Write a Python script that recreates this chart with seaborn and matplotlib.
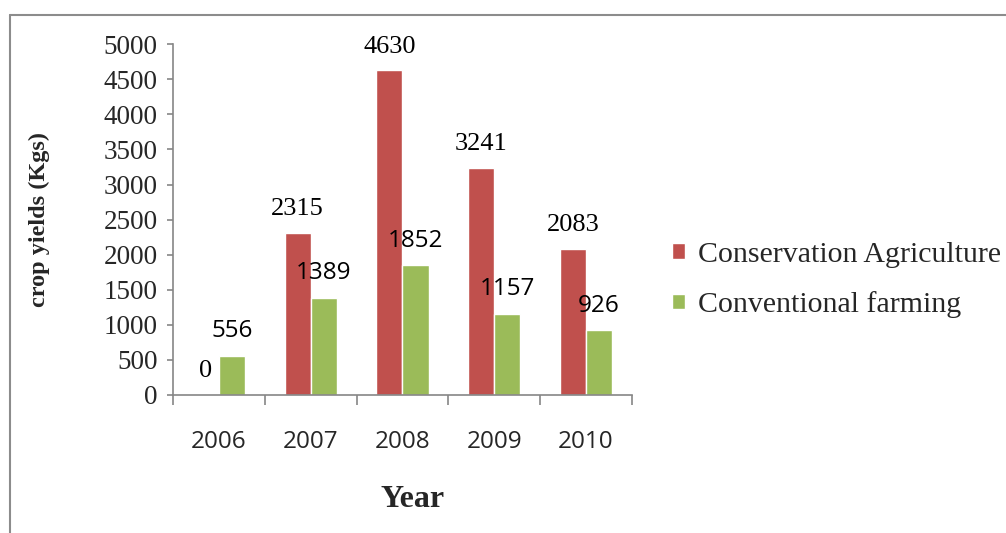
import numpy as np
import pandas as pd
import matplotlib.pyplot as plt
import seaborn as sns
from matplotlib.lines import Line2D
from matplotlib.patches import Patch
from matplotlib.colors import to_hex

###################################
# Data
###################################
years = ['2006', '2007', '2008', '2009', '2010']
conservation = [0, 2315, 4630, 3241, 2083]
conventional = [556, 1389, 1852, 1157, 926]
series = ['Conservation Agriculture', 'Conventional farming']
colors = ['#C0504D', '#9BBB59']

df = pd.DataFrame({
    'Year': years * 2,
    'Yield': conservation + conventional,
    'Series': [series[0]] * len(years) + [series[1]] * len(years),
})

###################################
# Plot
###################################
sns.set_style('white')
serif = 'Liberation Serif'
sans = 'Open Sans'
grey = '#868686'

fig = plt.figure(figsize=(10.06, 5.33), dpi=100)
ax = fig.add_axes([0.172, 0.259, 0.456, 0.658])
sns.barplot(data=df, x='Year', y='Yield', hue='Series', palette=colors,
            saturation=1, width=0.57, errorbar=None, legend=False, ax=ax)

# value labels: first series in serif, second in sans
for cont in ax.containers:
    for bar in cont:
        is_red = to_hex(bar.get_facecolor()).lower() == colors[0].lower()
        h = bar.get_height()
        ax.annotate(f'{h:g}', (bar.get_x() + bar.get_width() / 2, h),
                    xytext=(0, 9), textcoords='offset points',
                    ha='center', va='bottom',
                    fontfamily=serif if is_red else sans,
                    fontsize=19 if is_red else 17.5, color='black')

ax.set_ylim(0, 5000)
ax.set_xlim(-0.5, len(years) - 0.5)
ax.set_yticks(np.arange(0, 5001, 500))
ax.set_yticklabels([str(v) for v in range(0, 5001, 500)],
                   fontfamily=serif, fontsize=19.5)
ax.tick_params(axis='y', direction='out', length=4, width=1.2, color=grey,
               pad=7, left=True)
# category labels under centres, tick marks at the boundaries
ax.set_xticks(range(len(years)))
ax.set_xticklabels(years, fontfamily=sans, fontsize=17.5)
ax.set_xticks(np.arange(-0.5, len(years)), minor=True)
ax.tick_params(axis='x', which='major', length=0, pad=25)
ax.tick_params(axis='x', which='minor', direction='out', length=7,
               width=1.2, color=grey, bottom=True)

for s in ['top', 'right']:
    ax.spines[s].set_visible(False)
for s in ['left', 'bottom']:
    ax.spines[s].set_color(grey)
    ax.spines[s].set_linewidth(1.2)

ax.set_ylabel('crop yields (Kgs)', fontfamily=serif, fontsize=17.5,
              fontweight='bold')
ax.yaxis.set_label_coords(-0.268, 0.5)
ax.set_xlabel('Year', fontfamily=serif, fontsize=23, fontweight='bold')
ax.xaxis.set_label_coords(0.523, -0.299)
ax.xaxis.label.set_va('center')

handles = [Patch(facecolor=c) for c in colors]
ax.legend(handles, series, loc='center left',
          bbox_to_anchor=(672 / 1006, 1 - 280 / 533),
          bbox_transform=fig.transFigure, frameon=False,
          prop={'family': serif, 'size': 21.5}, handlelength=0.42,
          handleheight=0.42, handletextpad=0.45, labelspacing=0.78,
          borderpad=0, borderaxespad=0)

# outer frame of the chart area
x0, y0 = 10 / 1006, 1 - 15 / 533
fig.add_artist(Line2D([x0, x0], [0, y0], transform=fig.transFigure,
                      color='#8c8c8c', lw=1.5))
fig.add_artist(Line2D([x0, 1], [y0, y0], transform=fig.transFigure,
                      color='#8c8c8c', lw=1.5))

fig.savefig('out.png', dpi=100)
